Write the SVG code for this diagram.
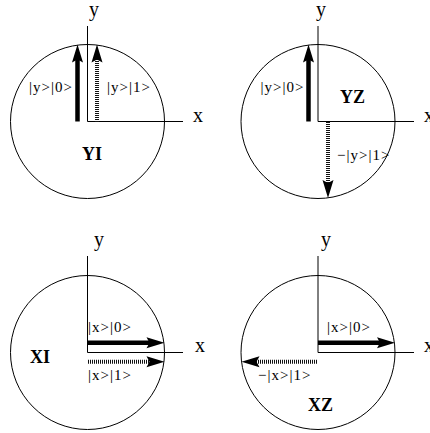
<svg xmlns="http://www.w3.org/2000/svg" width="430" height="433" viewBox="0 0 430 433">
<style>
.circ{fill:none;stroke:#000;stroke-width:1}
.ax{fill:none;stroke:#000;stroke-width:1}
.sh{fill:none;stroke:#000;stroke-width:4.5}
.dsh{fill:none;stroke:#111;stroke-width:4;stroke-dasharray:1 1}
.axl{font-family:"Liberation Serif",serif;font-size:20px;fill:#000}
.lbl{font-family:"Liberation Serif",serif;font-size:15px;letter-spacing:1px;fill:#000}
.ttl{font-family:"Liberation Serif",serif;font-size:18px;font-weight:bold;fill:#000}
</style>
<defs>
<path id="head" d="M0,0 L-5.5,18 L0,15 L5.5,18 Z" fill="#000"/>
</defs>
<rect width="430" height="433" fill="#fff"/>
<g id="panel-YI">
<circle class="circ" cx="87.5" cy="121.5" r="77"/>
<path class="ax" d="M87.5,26 V121.5 H183"/>
<text class="axl" x="94" y="16" text-anchor="middle">y</text>
<text class="axl" x="193" y="122">x</text>
<line class="sh" x1="77.5" y1="121.5" x2="77.5" y2="58"/>
<use href="#head" transform="translate(77.5,44.5)"/>
<line class="dsh" x1="97" y1="122" x2="97" y2="59"/>
<use href="#head" transform="translate(97,44.5)"/>
<text class="lbl" x="29" y="92">|y&gt;|0&gt;</text>
<text class="lbl" x="107" y="92">|y&gt;|1&gt;</text>
<text class="ttl" x="82" y="160">YI</text>
</g>
<g id="panel-YZ">
<circle class="circ" cx="318" cy="121.5" r="77"/>
<path class="ax" d="M318,26 V121.5 H414"/>
<text class="axl" x="321" y="16" text-anchor="middle">y</text>
<text class="axl" x="424" y="122">x</text>
<line class="sh" x1="308.5" y1="121.5" x2="308.5" y2="58"/>
<use href="#head" transform="translate(308.5,44.5)"/>
<line class="dsh" x1="328" y1="122" x2="328" y2="184"/>
<use href="#head" transform="translate(328,198) rotate(180)"/>
<text class="lbl" x="260.5" y="92">|y&gt;|0&gt;</text>
<text class="ttl" x="340" y="102.5">YZ</text>
<text class="lbl" x="337" y="160">−|y&gt;|1&gt;</text>
</g>
<g id="panel-XI">
<circle class="circ" cx="87.5" cy="352.5" r="77"/>
<path class="ax" d="M87.5,256 V352.5 H183"/>
<text class="axl" x="94" y="246">y</text>
<text class="axl" x="195" y="352">x</text>
<line class="sh" x1="87.5" y1="342.7" x2="151" y2="342.7"/>
<use href="#head" transform="translate(164.5,342.7) rotate(90)"/>
<line class="dsh" x1="88" y1="361.8" x2="150" y2="361.8"/>
<use href="#head" transform="translate(164.5,361.8) rotate(90)"/>
<text class="lbl" x="88" y="332">|x&gt;|0&gt;</text>
<text class="lbl" x="88" y="380">|x&gt;|1&gt;</text>
<text class="ttl" x="30" y="362.7">XI</text>
</g>
<g id="panel-XZ">
<circle class="circ" cx="318" cy="352.5" r="77"/>
<path class="ax" d="M318,256 V352.5 H414"/>
<text class="axl" x="321" y="246">y</text>
<text class="axl" x="424" y="352">x</text>
<line class="sh" x1="318" y1="342.7" x2="381" y2="342.7"/>
<use href="#head" transform="translate(395,342.7) rotate(90)"/>
<line class="dsh" x1="317" y1="361.8" x2="256" y2="361.8"/>
<use href="#head" transform="translate(241.5,361.8) rotate(-90)"/>
<text class="lbl" x="327" y="332">|x&gt;|0&gt;</text>
<text class="lbl" x="258" y="380">−|x&gt;|1&gt;</text>
<text class="ttl" x="308" y="411">XZ</text>
</g>
</svg>
